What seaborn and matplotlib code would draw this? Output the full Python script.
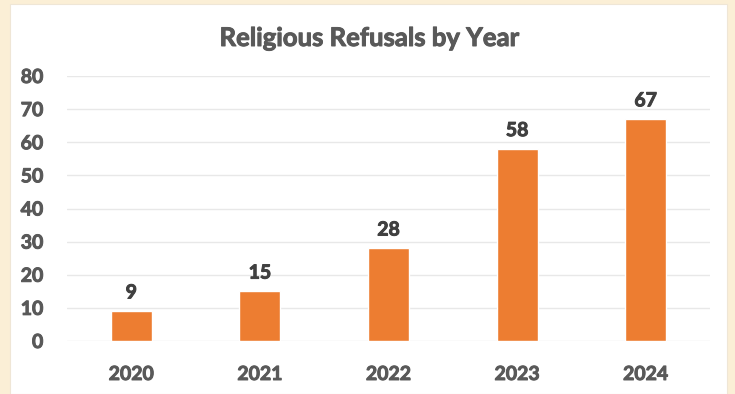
import matplotlib
matplotlib.use("Agg")
import matplotlib.pyplot as plt
import matplotlib.patches as mpatches
import matplotlib.patheffects as pe
import seaborn as sns
import pandas as pd

years = ["2020", "2021", "2022", "2023", "2024"]
refusals = [9, 15, 28, 58, 67]
y_ticks = [0, 10, 20, 30, 40, 50, 60, 70, 80]

sns.set_theme(style="white")
plt.rcParams["font.family"] = ["Lato", "DejaVu Sans"]

text_color = "#595959"
bar_color = "#ED7D31"


def heavier(color):
    # thin outline in the text colour to give the bold glyphs more weight
    return [pe.withStroke(linewidth=0.7, foreground=color)]


fig = plt.figure(figsize=(7.35, 3.94), dpi=100)
fig.patch.set_facecolor("#FBEFD6")
# white chart panel inside the cream frame
fig.add_artist(mpatches.Rectangle((10 / 735, 0), (727 - 10) / 735, (394 - 4) / 394,
                                  transform=fig.transFigure, facecolor="white",
                                  edgecolor="#EFE6D6", linewidth=0.8, zorder=0))

ax = fig.add_axes([67 / 735, 1 - 341 / 394, (710 - 67) / 735, (341 - 76) / 394])
ax.set_facecolor("none")

df = pd.DataFrame({"year": years, "refusals": refusals})
sns.barplot(data=df, x="year", y="refusals", color=bar_color, width=0.32,
            saturation=1, ax=ax, zorder=3)

for i, v in enumerate(refusals):
    ax.annotate(str(v), (i, v), xytext=(0, 7), textcoords="offset points",
                ha="center", va="bottom", fontsize=14, fontweight="bold",
                color="#404040", path_effects=heavier("#404040"))

ax.set_ylim(0, 80)
ax.set_xlim(-0.5, 4.5)
ax.set_yticks(y_ticks)
ax.yaxis.grid(True, color="#E8E8E8", linewidth=1, zorder=0)
ax.set_axisbelow(True)
for s in ax.spines.values():
    s.set_visible(False)
ax.set_xlabel("")
ax.set_ylabel("")
ax.tick_params(axis="y", length=0, pad=17, labelsize=14, labelcolor=text_color)
ax.tick_params(axis="x", length=0, pad=18, labelsize=14, labelcolor=text_color)
for lab in ax.get_xticklabels() + ax.get_yticklabels():
    lab.set_fontweight("bold")
    lab.set_path_effects(heavier(text_color))

fig.text(370 / 735, 1 - 38 / 394, "Religious Refusals by Year", ha="center",
         va="center", fontsize=18.5, fontweight="bold", color=text_color,
         path_effects=heavier(text_color))

fig.savefig("out.png", dpi=100, facecolor=fig.get_facecolor())
